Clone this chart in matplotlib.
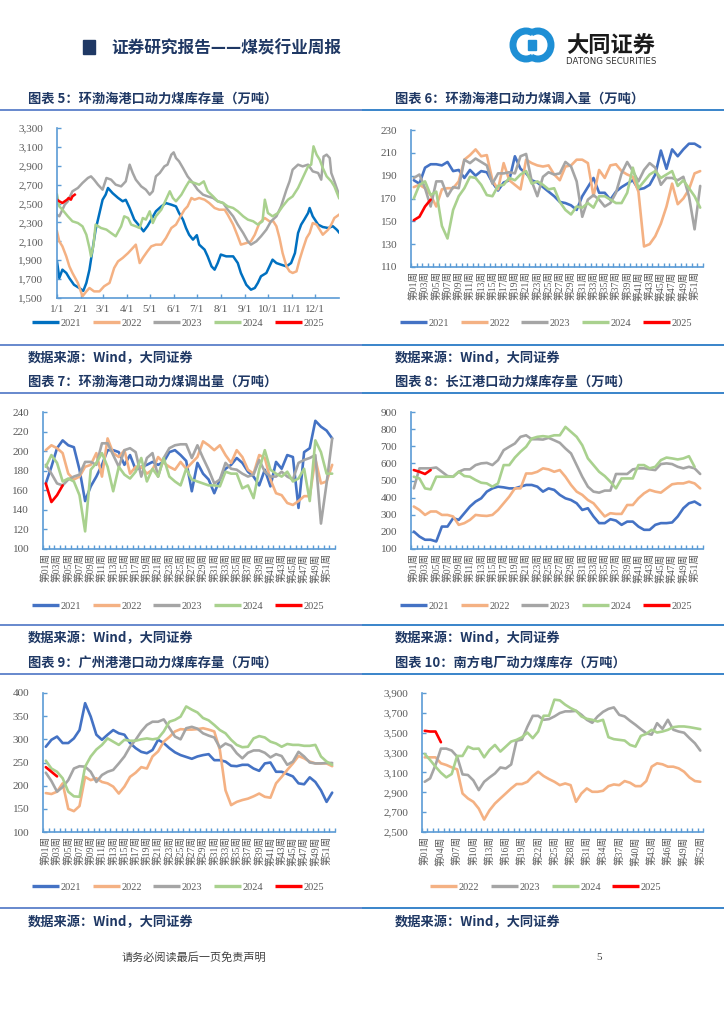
import numpy as np
import matplotlib
matplotlib.use('Agg')
import matplotlib.pyplot as plt
from matplotlib.lines import Line2D
from matplotlib.patches import Rectangle, Arc

# ---------------- data ----------------
years5 = ['2021', '2022', '2023', '2024', '2025']
years4 = ['2022', '2023', '2024', '2025']
month_days = [0, 31, 59, 90, 120, 151, 181, 212, 243, 273, 304, 334]
month_labels = ['1/1', '2/1', '3/1', '4/1', '5/1', '6/1', '7/1', '8/1', '9/1', '10/1', '11/1', '12/1']

# chart 5 (day of year, value)
c5_2021 = [(0,1888),(3,1712),(7,1800),(12,1765),(16,1710),(22,1640),(29,1605),(34,1575),(38,1660),(42,1800),(46,2012),(50,2224),(55,2400),(59,2540),(63,2595),(66,2665),(72,2610),(79,2560),(85,2524),(89,2540),(94,2453),(100,2330),(107,2260),(112,2206),(117,2260),(122,2330),(128,2418),(135,2470),(141,2505),(148,2488),(154,2470),(158,2400),(163,2330),(167,2241),(171,2170),(176,2118),(181,2165),(184,2065),(191,2012),(195,1941),(200,1835),(204,1800),(208,1870),(212,1960),(219,1941),(228,1941),(234,1870),(238,1765),(245,1640),(251,1588),(256,1606),(260,1660),(264,1730),(271,1765),(275,1835),(279,1906),(284,1870),(290,1853),(297,1835),(303,1870),(308,1976),(312,2188),(316,2277),(320,2330),(325,2400),(327,2453),(331,2365),(338,2277),(344,2252),(351,2241),(357,2260),(362,2224),(365,2195)]
c5_2022 = [(0,2206),(3,2100),(7,2047),(12,1941),(16,1835),(20,1765),(27,1660),(33,1518),(38,1570),(42,1606),(48,1570),(55,1570),(61,1624),(68,1660),(74,1818),(79,1888),(85,1924),(92,1976),(98,2029),(102,2065),(107,1870),(111,1924),(117,1994),(122,2047),(128,2065),(135,2065),(141,2135),(148,2241),(154,2277),(160,2365),(165,2435),(169,2470),(174,2559),(178,2541),(184,2559),(191,2541),(197,2506),(204,2453),(210,2435),(217,2435),(221,2382),(228,2277),(234,2153),(238,2065),(245,2082),(251,2100),(256,2170),(262,2294),(269,2347),(275,2312),(280,2312),(284,2259),(288,2135),(292,1976),(297,1835),(301,1782),(305,1765),(310,1782),(314,1906),(318,2012),(323,2135),(327,2188),(331,2294),(336,2277),(340,2224),(344,2170),(351,2224),(355,2277),(359,2347),(365,2382)]
c5_2023 = [(0,2382),(3,2365),(7,2435),(10,2488),(14,2524),(20,2630),(27,2665),(33,2718),(40,2771),(44,2788),(48,2753),(53,2700),(59,2647),(64,2771),(70,2753),(76,2700),(83,2682),(89,2735),(94,2912),(98,2824),(102,2753),(109,2682),(115,2647),(120,2594),(124,2630),(128,2788),(133,2824),(139,2894),(143,2912),(148,3018),(151,3042),(154,2982),(158,2947),(163,2877),(169,2788),(176,2718),(182,2647),(189,2594),(195,2576),(202,2559),(208,2524),(215,2506),(221,2435),(228,2365),(234,2277),(241,2188),(247,2100),(251,2065),(258,2100),(264,2153),(271,2224),(277,2312),(284,2365),(290,2470),(297,2647),(301,2735),(305,2859),(312,2912),(318,2894),(325,2912),(331,2841),(338,2824),(342,2753),(345,2998),(349,3018),(353,2982),(355,2824),(359,2735),(365,2594)]
c5_2024 = [(0,2594),(3,2470),(7,2435),(14,2365),(20,2312),(27,2294),(33,2259),(38,2170),(42,2030),(44,1941),(47,2047),(50,2277),(57,2241),(64,2224),(70,2188),(76,2153),(83,2259),(87,2365),(92,2347),(96,2277),(102,2259),(107,2241),(111,2347),(115,2330),(120,2418),(124,2294),(128,2365),(135,2435),(141,2541),(146,2630),(150,2559),(154,2524),(161,2594),(167,2682),(171,2735),(178,2718),(184,2700),(190,2735),(195,2630),(202,2576),(208,2524),(215,2506),(221,2470),(228,2453),(234,2418),(241,2365),(247,2330),(254,2312),(260,2277),(266,2312),(269,2541),(273,2400),(279,2365),(286,2400),(292,2470),(299,2541),(305,2576),(312,2665),(318,2771),(325,2894),(329,2912),(332,3106),(336,3018),(340,2965),(344,2877),(349,2788),(355,2735),(359,2682),(365,2559)]
c5_2025 = [(0,2541),(3,2524),(7,2506),(10,2524),(13,2541),(15,2559),(18,2541),(20,2576),(23,2594)]

# chart 6 weekly
c6_2021 = [186,183,197,200,200,199,202,194,195,188,195,190,194,193,184,177,184,186,207,196,192,186,184,180,176,172,167,166,164,160,172,180,188,175,175,169,176,180,183,186,178,179,182,191,212,196,213,207,213,218,218,215]
c6_2022 = [180,182,179,173,163,178,179,179,185,204,208,213,207,208,186,178,201,186,182,178,204,201,199,198,199,191,186,198,199,204,204,201,172,195,188,199,200,194,191,189,176,128,130,137,148,163,183,165,170,178,192,194]
c6_2023 = [188,191,179,163,185,185,172,180,179,204,201,205,202,199,183,192,192,193,192,207,209,185,172,189,193,191,192,202,198,185,154,169,173,169,163,166,175,192,202,194,185,195,201,197,182,188,188,186,189,172,143,181]
c6_2024 = [170,182,185,173,176,146,135,160,172,179,189,188,182,173,172,181,182,188,186,191,194,183,185,182,178,179,167,160,156,163,162,166,162,172,172,169,166,166,175,197,179,185,191,194,188,191,194,181,186,179,172,162]
c6_2025 = [151,154,163,169]

# chart 7 weekly
c7_2021 = [167,184,203,211,206,204,181,149,164,174,186,201,201,199,186,196,181,184,186,189,186,189,199,201,196,190,159,188,177,171,157,171,182,186,193,188,179,174,165,181,164,189,182,196,194,142,199,203,231,225,221,213]
c7_2022 = [201,206,203,198,177,171,174,184,186,198,174,213,198,194,201,177,184,184,177,181,194,188,184,181,189,182,188,194,210,206,201,206,196,188,201,194,181,177,196,193,171,157,155,147,145,149,154,154,192,167,169,186]
c7_2023 = [186,177,167,165,171,174,176,189,189,186,208,208,196,184,201,203,199,174,193,198,174,193,203,206,207,207,193,206,193,181,167,171,188,182,181,177,174,176,191,179,174,174,179,174,171,188,191,193,196,126,167,213]
c7_2024 = [184,196,188,169,172,169,155,118,181,188,198,184,159,184,176,172,179,193,169,182,174,193,174,169,165,182,171,169,167,165,165,164,179,177,177,162,165,152,181,201,181,177,174,179,169,172,182,149,211,199,177,177]
c7_2025 = [167,148,155,165]

# chart 8 weekly
c8_2021 = [202,173,154,154,144,231,231,280,270,309,348,377,396,435,454,464,460,454,454,464,474,474,464,435,454,445,416,396,386,367,328,338,290,251,251,274,266,241,260,260,231,212,212,241,251,251,255,290,338,367,377,357]
c8_2022 = [348,328,299,319,319,299,299,290,241,251,270,299,295,293,299,328,367,406,454,454,541,541,551,571,565,551,561,522,474,435,416,386,367,328,290,309,305,305,357,357,396,425,445,435,429,454,478,483,483,493,483,454]
c8_2023 = [454,571,571,571,576,551,526,522,551,565,565,590,600,603,590,619,677,697,716,755,764,741,741,739,749,735,720,687,658,590,522,464,435,429,441,441,538,538,538,565,571,571,565,561,596,600,596,580,571,580,571,538]
c8_2024 = [522,512,454,448,522,522,522,522,551,526,522,503,487,483,464,483,590,590,634,668,697,745,755,759,755,764,764,813,784,755,706,629,590,551,526,493,454,512,512,512,590,590,571,580,619,634,629,623,629,642,580]
c8_2025 = [561,551,538,561]

# chart 9 weekly
c9_2021 = [284,299,306,292,292,302,320,378,349,310,299,310,320,313,310,292,281,273,270,277,299,292,281,272,266,262,258,263,266,268,255,255,252,243,242,245,245,237,232,248,250,230,230,225,220,205,203,218,208,190,165,185]
c9_2022 = [184,182,187,205,150,145,156,219,212,216,208,205,198,183,198,219,228,240,237,263,274,295,305,317,322,321,321,322,324,321,317,277,190,158,165,169,172,177,183,176,174,205,219,234,248,264,259,252,248,248,248,242]
c9_2023 = [228,210,187,197,212,237,242,241,230,208,223,230,234,248,263,284,299,317,331,338,338,343,325,306,300,324,327,323,313,308,304,282,291,286,270,259,271,276,276,271,261,268,264,245,252,273,263,250,248,248,249,249]
c9_2024 = [254,237,230,216,187,177,176,241,263,278,288,302,295,288,299,297,297,300,302,300,302,317,338,342,349,371,364,358,346,341,331,320,313,299,288,283,284,302,307,304,295,291,284,290,288,288,286,286,288,263,252,245]
c9_2025 = [240,230,220]

# chart 10 weekly
c10_2022 = [3252,3252,3252,3192,3175,3151,3131,2888,2838,2804,2736,2625,2719,2787,2838,2888,2939,2983,2983,3006,3064,3107,3064,3033,3006,2972,2989,2972,2804,2888,2939,2905,2905,2915,2962,2979,2972,3013,2996,2962,2962,3013,3158,3192,3182,3158,3158,3141,3107,3050,3013,3006]
c10_2023 = [3006,3040,3175,3340,3340,3320,3260,3080,3074,3020,2922,3006,3050,3090,3150,3140,3180,3420,3430,3560,3670,3670,3630,3637,3664,3698,3715,3715,3720,3681,3630,3600,3664,3710,3740,3755,3680,3664,3620,3580,3536,3495,3480,3596,3539,3630,3530,3512,3500,3445,3394,3320]
c10_2024 = [3286,3225,3158,3097,3050,3084,3266,3266,3360,3337,3340,3252,3327,3377,3310,3360,3411,3428,3455,3502,3445,3512,3671,3671,3833,3826,3782,3748,3721,3664,3640,3630,3613,3630,3455,3435,3428,3421,3377,3360,3468,3488,3529,3502,3512,3529,3556,3563,3563,3556,3546,3536]
c10_2025 = [3519,3512,3512,3404]

# ---------------- style ----------------
W, H = 724, 1024
SERIF = ['Liberation Serif', 'Noto Sans CJK SC', 'DejaVu Sans']
CJK = ['Noto Sans CJK SC', 'DejaVu Sans']
plt.rcParams['font.family'] = SERIF
AX = '#5B9BD5'
TXT = '#595959'
NAVY = '#1F3864'
COL = {'2021': '#4472C4', '2022': '#F4B183', '2023': '#A5A5A5', '2024': '#A9D18E', '2025': '#FF0000'}
COL5 = dict(COL, **{'2021': '#0070C0'})

fig = plt.figure(figsize=(W / 100, H / 100), dpi=100)
deco = fig.add_axes([0, 0, 1, 1])
deco.set_xlim(0, W)
deco.set_ylim(H, 0)
deco.axis('off')


def rect(x0, y0, x1, y1):
    return [x0 / W, 1 - y1 / H, (x1 - x0) / W, (y1 - y0) / H]


def style_axes(ax):
    ax.set_facecolor('none')
    for s in ('top', 'right'):
        ax.spines[s].set_visible(False)
    for s in ('left', 'bottom'):
        ax.spines[s].set_color(AX)
        ax.spines[s].set_linewidth(1.2)
    ax.tick_params(axis='y', direction='in', length=3, width=1, color=AX, pad=10,
                   labelsize=8, labelcolor=TXT)


def legend(cx, cy, years, colors):
    handles = [Line2D([], [], color=colors[y], lw=2.4, solid_capstyle='butt') for y in years]
    fig.legend(handles, years, loc='center', bbox_to_anchor=(cx / W, 1 - cy / H),
               ncol=len(years), frameon=False, handlelength=2.6, handletextpad=0.15,
               columnspacing=1.1, borderaxespad=0, borderpad=0,
               prop={'family': SERIF, 'size': 7.5}, labelcolor=TXT)


def weekly(box, series, ylim, step, label_weeks, comma=False):
    ax = fig.add_axes(rect(*box))
    style_axes(ax)
    for year, vals in series:
        ax.plot(np.arange(1, len(vals) + 1), vals, color=COL[year], lw=1.9,
                solid_joinstyle='round', solid_capstyle='round')
    ax.set_xlim(0.5, 52.5)
    ax.set_ylim(*ylim)
    yt = list(range(ylim[0], ylim[1] + 1, step))
    ax.set_yticks(yt)
    ax.set_yticklabels([f'{v:,}' if comma else f'{v}' for v in yt])
    ax.set_xticks(np.arange(0.5, 53, 1.0))
    ax.set_xticklabels([])
    ax.tick_params(axis='x', which='major', direction='in', length=3, width=1, color=AX)
    ax.set_xticks(label_weeks, minor=True)
    ax.set_xticklabels([f'第{w:02d}周' for w in label_weeks], minor=True, rotation=90)
    ax.tick_params(axis='x', which='minor', length=0, pad=3, labelsize=7, labelcolor=TXT)
    return ax


# ---------------- header / decoration ----------------
deco.add_patch(Rectangle((83, 40), 12, 14, color=NAVY))
deco.text(111, 48, '证券研究报告——煤炭行业周报', family=CJK, weight='bold', size=12,
          color=NAVY, va='center', ha='left')
LB = '#1E8FD5'
deco.add_patch(Arc((526, 45), 26, 28, theta1=60, theta2=300, lw=5, color=LB))
deco.add_patch(Arc((538, 45), 26, 28, theta1=240, theta2=480, lw=5, color=LB))
deco.add_patch(Rectangle((528, 40), 8, 10, color=LB))
deco.text(566, 46, '大同证券', family=CJK, weight='bold', size=16, color='#1A1A1A',
          va='center', ha='left')
deco.text(566, 61, 'DATONG SECURITIES', family=['DejaVu Sans'], size=6.2, color='#333333',
          va='center', ha='left')

titles = [(28, 99, '图表 5：环渤海港口动力煤库存量（万吨）'),
          (395, 99, '图表 6：环渤海港口动力煤调入量（万吨）'),
          (28, 382, '图表 7：环渤海港口动力煤调出量（万吨）'),
          (395, 382, '图表 8：长江港口动力煤库存量（万吨）'),
          (28, 663, '图表 9：广州港港口动力煤库存量（万吨）'),
          (395, 663, '图表 10：南方电厂动力煤库存（万吨）')]
for x, y, t in titles:
    deco.text(x, y, t, family=CJK, weight='bold', size=9.5, color=NAVY, va='center', ha='left')

for y in (110, 393, 674, 345, 625, 908):
    deco.plot([0, 362], [y, y], color='#5B7FC9', lw=1.3, solid_capstyle='butt')
    deco.plot([362, 724], [y, y], color='#2A7BC6', lw=1.3, solid_capstyle='butt')

for y in (358, 638, 922):
    for x in (28, 395):
        deco.text(x, y, '数据来源：Wind，大同证券', family=CJK, weight='bold', size=9.5,
                  color=NAVY, va='center', ha='left')

deco.text(122, 958, '请务必阅读最后一页免责声明', family=CJK, style='italic', size=8,
          color='#404040', va='center', ha='left')
deco.text(599, 958, '5', family=SERIF, size=8, color='#404040', va='center', ha='center')

# ---------------- chart 5 ----------------
ax5 = fig.add_axes(rect(57, 128, 339, 298))
style_axes(ax5)
for year, pts in zip(years5, [c5_2021, c5_2022, c5_2023, c5_2024, c5_2025]):
    ax5.plot([p[0] for p in pts], [p[1] for p in pts], color=COL5[year], lw=1.8,
             solid_joinstyle='round')
ax5.set_xlim(0, 365)
ax5.set_ylim(1500, 3300)
yt5 = list(range(1500, 3301, 200))
ax5.set_yticks(yt5)
ax5.set_yticklabels([f'{v:,}' for v in yt5])
ax5.set_xticks(month_days)
ax5.set_xticklabels(month_labels)
ax5.tick_params(axis='x', direction='in', length=3, width=1, color=AX, pad=5,
                labelsize=8, labelcolor=TXT)
legend(178, 323, years5, COL5)

# ---------------- chart 6 ----------------
odd_weeks = list(range(1, 52, 2))
weekly((411, 130, 703, 267),
       list(zip(years5, [c6_2021, c6_2022, c6_2023, c6_2024, c6_2025])),
       (110, 230), 20, odd_weeks)
legend(546, 323, years5, COL)

# ---------------- chart 7 ----------------
weekly((43, 412, 335, 549),
       list(zip(years5, [c7_2021, c7_2022, c7_2023, c7_2024, c7_2025])),
       (100, 240), 20, odd_weeks)
legend(178, 606, years5, COL)

# ---------------- chart 8 ----------------
weekly((411, 412, 703, 549),
       list(zip(years5, [c8_2021, c8_2022, c8_2023, c8_2024, c8_2025])),
       (100, 900), 100, odd_weeks)
legend(546, 606, years5, COL)

# ---------------- chart 9 ----------------
weekly((43, 693, 335, 832),
       list(zip(years5, [c9_2021, c9_2022, c9_2023, c9_2024, c9_2025])),
       (100, 400), 50, odd_weeks)
legend(178, 887, years5, COL)

# ---------------- chart 10 ----------------
weekly((422, 693, 703, 832),
       list(zip(years4, [c10_2022, c10_2023, c10_2024, c10_2025])),
       (2500, 3900), 200, list(range(1, 53, 3)), comma=True)
legend(546, 887, years4, COL)

fig.savefig('out.png', dpi=100)
